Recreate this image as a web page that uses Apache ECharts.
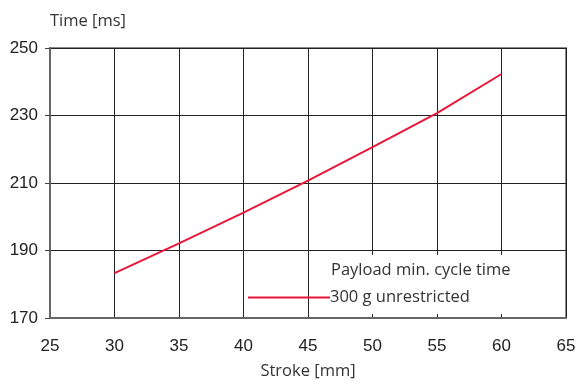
<!DOCTYPE html>
<html>
<head>
<meta charset="utf-8">
<script src="https://cdn.jsdelivr.net/npm/echarts@6/dist/echarts.min.js"></script>
<style>
  html, body { margin: 0; padding: 0; background: #fff; }
  #chart { width: 579px; height: 385px; }
</style>
</head>
<body>
<div id="chart"></div>
<script>
// Stroke positions (mm) and minimum cycle time (ms) for a 300 g payload
const strokeMm = [30, 35, 40, 45, 50, 55, 60];
const cycleTimeMs = [183.3, 192.1, 201.2, 210.7, 220.6, 230.7, 242.3];

const seriesName = '300 g unrestricted';
const legendTitle = 'Payload min. cycle time';
const xAxisName = 'Stroke [mm]';
const yAxisName = 'Time [ms]';

const labelFont = '"Liberation Sans", Arial, sans-serif';
const textFont = '"Open Sans", "Noto Sans", sans-serif';
const lineColor = '#e8173a';

const chart = echarts.init(document.getElementById('chart'), null, { renderer: 'canvas' });

chart.setOption({
  animation: false,
  backgroundColor: '#fff',
  grid: {
    left: 50, right: 13, top: 48, bottom: 67,
    show: true, borderColor: '#8a8a8a', borderWidth: 2, backgroundColor: 'transparent'
  },
  xAxis: {
    type: 'value',
    min: 25, max: 65, interval: 5,
    name: xAxisName,
    nameLocation: 'middle',
    nameGap: 45,
    nameTextStyle: { fontFamily: textFont, fontSize: 16.5, color: '#333' },
    axisLine: { show: true, onZero: false, lineStyle: { color: '#666', width: 2 } },
    axisTick: { show: false },
    axisLabel: { fontFamily: labelFont, fontSize: 17, color: '#222', margin: 20 },
    splitLine: { show: true, lineStyle: { color: '#222', width: 1 } }
  },
  yAxis: {
    type: 'value',
    min: 170, max: 250, interval: 20,
    name: yAxisName,
    nameLocation: 'end',
    nameGap: 18,
    nameTextStyle: { fontFamily: textFont, fontSize: 16.5, color: '#333', align: 'left' },
    axisLine: { show: true, lineStyle: { color: '#666', width: 2 } },
    axisTick: { show: true, length: 5, lineStyle: { color: '#444', width: 1 } },
    axisLabel: { fontFamily: labelFont, fontSize: 17, color: '#222', margin: 12 },
    splitLine: { show: true, lineStyle: { color: '#222', width: 1 } }
  },
  legend: {
    show: true,
    left: 248, top: 289,
    orient: 'vertical',
    data: [{ name: seriesName, icon: 'rect' }],
    itemWidth: 82, itemHeight: 2,
    itemGap: 0,
    padding: 0,
    textStyle: { fontFamily: textFont, fontSize: 16.5, color: '#333', padding: [0, 0, 0, -5] },
    z: 10
  },
  graphic: [
    {
      type: 'rect', z: 5,
      shape: { x: 328, y: 255, width: 237, height: 59 },
      style: { fill: '#fff' }
    },
    {
      type: 'text', z: 11,
      left: 331, top: 262,
      style: { text: legendTitle, font: '16.5px ' + textFont, fill: '#333' }
    }
  ],
  series: [
    {
      name: seriesName,
      type: 'line',
      data: strokeMm.map((s, i) => [s, cycleTimeMs[i]]),
      symbol: 'none',
      smooth: false,
      lineStyle: { color: lineColor, width: 2 },
      itemStyle: { color: lineColor },
      z: 6
    }
  ]
});
</script>
</body>
</html>
